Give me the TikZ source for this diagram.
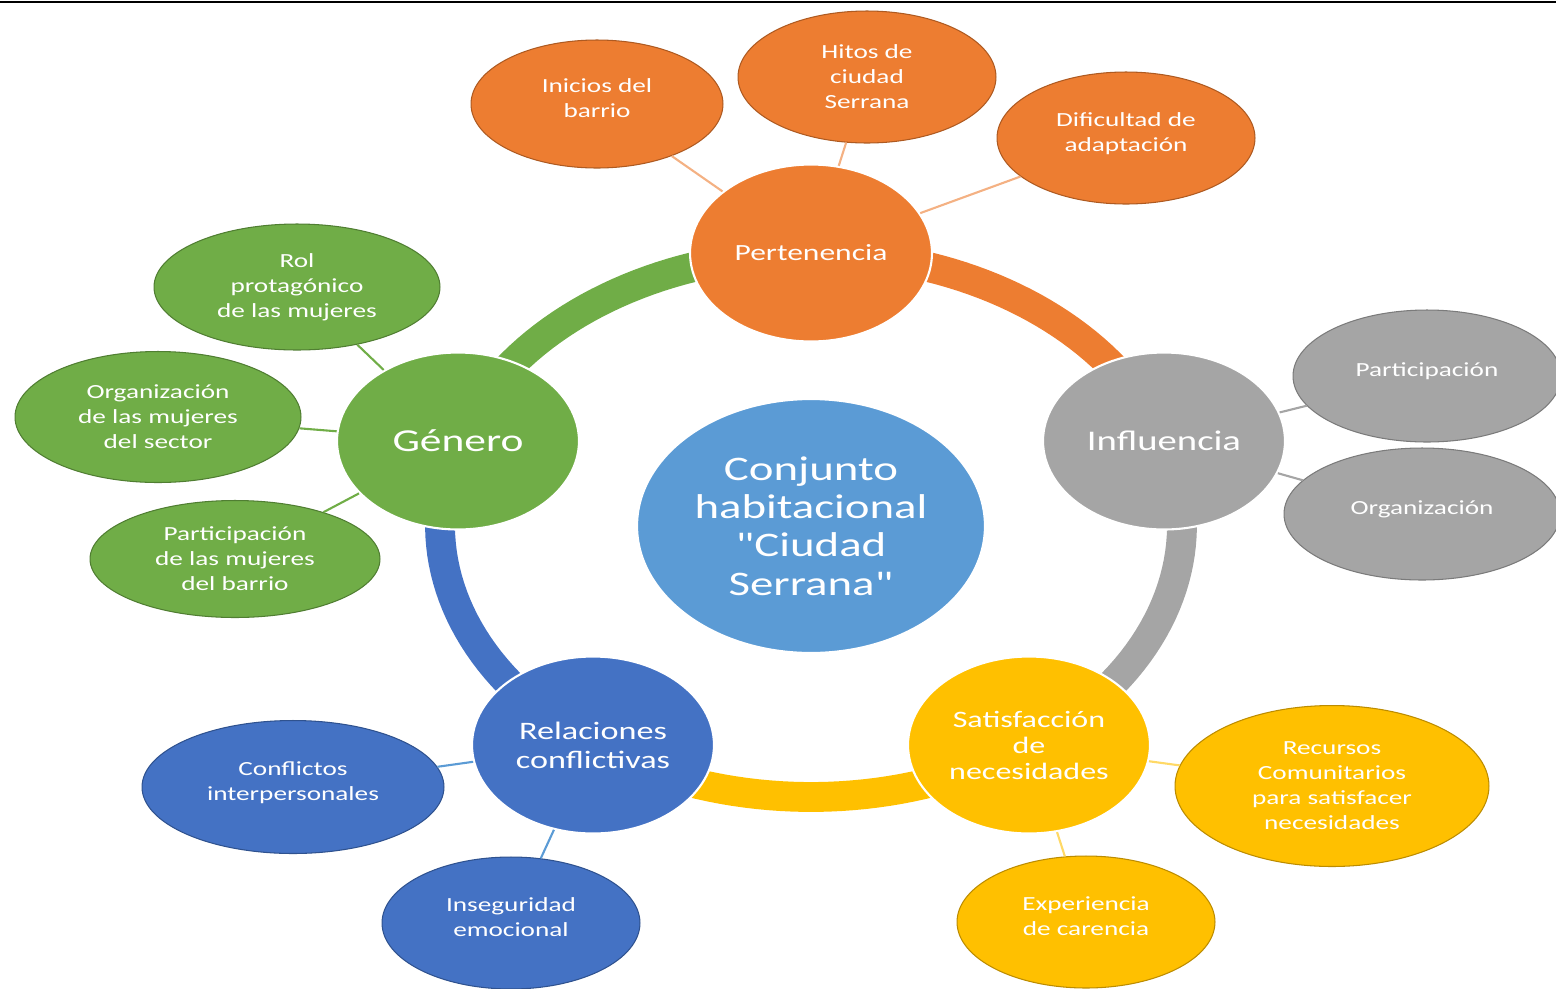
\documentclass[tikz,border=0pt]{standalone}
\usepackage{fontspec}
\setmainfont{Carlito}[FakeStretch=1.36, Ligatures=TeXOff]
\usetikzlibrary{shapes.geometric}

\definecolor{naranja}{HTML}{ED7D31}
\definecolor{naranjaosc}{HTML}{AE5A21}
\definecolor{naranjacl}{HTML}{F4B183}
\definecolor{verde}{HTML}{70AD47}
\definecolor{verdeosc}{HTML}{507E32}
\definecolor{gris}{HTML}{A5A5A5}
\definecolor{grisosc}{HTML}{7B7B7B}
\definecolor{azul}{HTML}{4472C4}
\definecolor{azulosc}{HTML}{2F528F}
\definecolor{azulcl}{HTML}{5B9BD5}
\definecolor{amarillo}{HTML}{FFC000}
\definecolor{amarilloosc}{HTML}{BC8C00}
\definecolor{amarillocl}{HTML}{FFD966}
\definecolor{celeste}{HTML}{5B9BD5}

% last line a bit deeper, so the text sits higher in the ellipse
\newcommand{\hueco}{\rule[-7pt]{0pt}{7pt}}

\tikzset{
  main/.style={ellipse, draw=white, line width=1.2pt, text=white, inner sep=0pt,
    minimum width=4.84cm, minimum height=3.54cm, align=center},
  sat/.style={ellipse, line width=0.6pt, text=white, inner sep=0pt, align=center,
    minimum width=5.16cm, minimum height=2.64cm, font=\fontsize{11.4}{14.2}\selectfont},
  anillo/.style={line width=17pt},
  rama/.style={line width=1.2pt},
}

\begin{document}
\begin{tikzpicture}[x=0.02cm,y=-0.02cm]
    \useasboundingbox (0,0) rectangle (1556,988);
    \clip (0,0) rectangle (1556,988);
    \draw[line width=1.7pt] (0,2) -- (1556,2);

    % anillo
    \draw[anillo, verde] plot[domain=90:162, samples=40] ({811+371*cos(\x)},{525-272*sin(\x)});
    \draw[anillo, azul] plot[domain=162:234, samples=40] ({811+371*cos(\x)},{525-272*sin(\x)});
    \draw[anillo, amarillo] plot[domain=234:306, samples=40] ({811+371*cos(\x)},{525-272*sin(\x)});
    \draw[anillo, gris] plot[domain=306:378, samples=40] ({811+371*cos(\x)},{525-272*sin(\x)});
    \draw[anillo, naranja] plot[domain=18:90, samples=40] ({811+371*cos(\x)},{525-272*sin(\x)});

    % nodos principales
    \node[main, fill=celeste, minimum width=6.96cm, minimum height=5.08cm,
      font=\fontsize{19.6}{21.9}\selectfont] (centro) at (811,526) {Conjunto\\habitacional\\"Ciudad\\Serrana"};
    \node[main, fill=naranja, font=\fontsize{13.2}{16}\selectfont] (pert) at (811,253) {Pertenencia};
    \node[main, fill=verde, font=\fontsize{18.2}{22}\selectfont] (gen) at (458,441) {Género};
    \node[main, fill=gris, font=\fontsize{16.2}{20}\selectfont] (infl) at (1164,441) {Influencia};
    \node[main, fill=azul, font=\fontsize{14.3}{16.5}\selectfont] (rel) at (593,745) {Relaciones\\conflictivas};
    \node[main, fill=amarillo, font=\fontsize{13.4}{14.8}\selectfont] (satis) at (1029,745) {Satisfacción\\de\\necesidades};

    % pertenencia
    \node[sat, fill=naranja, draw=naranjaosc, minimum width=5.04cm, minimum height=2.56cm] (ini) at (597,104) {Inicios del\\barrio\hueco};
    \node[sat, fill=naranja, draw=naranjaosc] (hitos) at (867,77) {Hitos de\\ciudad\\Serrana};
    \node[sat, fill=naranja, draw=naranjaosc] (dif) at (1126,138) {Dificultad de\\adaptación\hueco};

    % genero
    \node[sat, fill=verde, draw=verdeosc, minimum width=5.72cm, minimum height=2.52cm] (rol) at (297,287) {Rol\\protagónico\\de las mujeres};
    \node[sat, fill=verde, draw=verdeosc, minimum width=5.72cm, minimum height=2.62cm] (org) at (158,417) {Organización\\de las mujeres\\del sector};
    \node[sat, fill=verde, draw=verdeosc, minimum width=5.8cm, minimum height=2.34cm] (partm) at (235,559) {Participación\\de las mujeres\\del barrio};

    % influencia
    \node[sat, fill=gris, draw=grisosc, minimum width=5.36cm] (part) at (1427,376) {Participación\hueco};
    \node[sat, fill=gris, draw=grisosc, minimum width=5.52cm] (orgz) at (1422,514) {Organización\hueco};

    % relaciones
    \node[sat, fill=azul, draw=azulosc, minimum width=6.04cm, minimum height=2.66cm] (conf) at (293,787) {Conflictos\\interpersonales\hueco};
    \node[sat, fill=azul, draw=azulosc] (inseg) at (511,923) {Inseguridad\\emocional\hueco};

    % satisfaccion
    \node[sat, fill=amarillo, draw=amarilloosc, minimum width=6.28cm, minimum height=3.22cm] (rec) at (1332,786) {Recursos\\Comunitarios\\para satisfacer\\necesidades};
    \node[sat, fill=amarillo, draw=amarilloosc] (exp) at (1086,922) {Experiencia\\de carencia\hueco};

    \draw[rama, naranjacl] (pert) -- (ini) (pert) -- (hitos) (pert) -- (dif);
    \draw[rama, verde] (gen) -- (rol) (gen) -- (org) (gen) -- (partm);
    \draw[rama, gris] (infl) -- (part) (infl) -- (orgz);
    \draw[rama, azulcl] (rel) -- (conf) (rel) -- (inseg);
    \draw[rama, amarillocl] (satis) -- (rec) (satis) -- (exp);
\end{tikzpicture}
\end{document}
